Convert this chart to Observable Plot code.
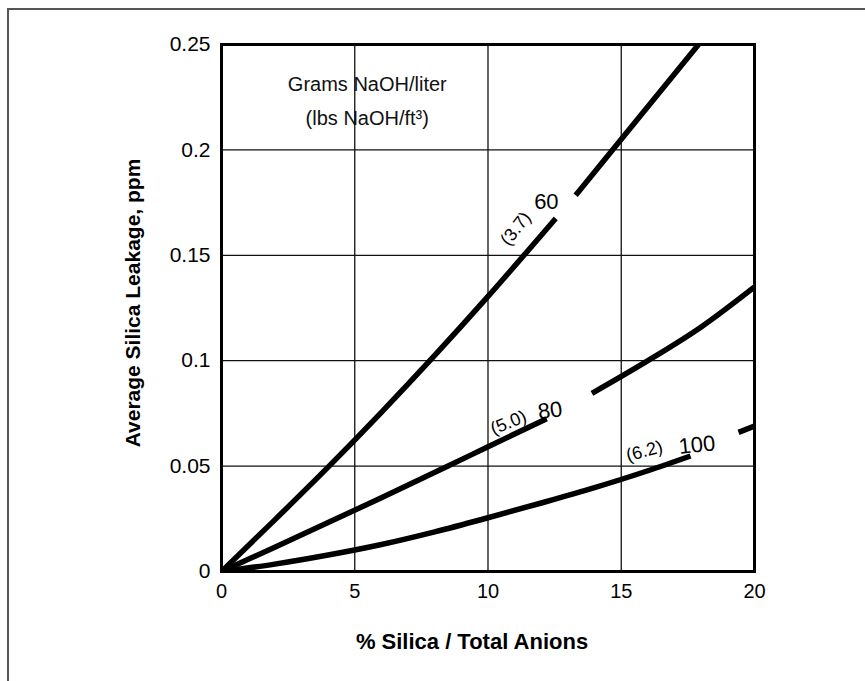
<!DOCTYPE html>
<html><head><meta charset="utf-8">
<script src="https://cdn.jsdelivr.net/npm/d3@7"></script>
<script src="https://cdn.jsdelivr.net/npm/@observablehq/plot@0.6"></script>
<style>
html,body{margin:0;padding:0;background:#fff;}
#wrap{position:relative;width:865px;height:681px;overflow:hidden;}
#border{position:absolute;left:7px;top:8px;width:900px;height:700px;border-left:2px solid #555;border-top:2px solid #555;}
#chart{position:absolute;left:0;top:0;}
</style></head><body>
<div id="wrap"><div id="border"></div><div id="chart"></div></div>
<script>
// ticks
const xTicks = [0, 5, 10, 15, 20];
const xTickLabels = ["0", "5", "10", "15", "20"];
const yTicks = [0, 0.05, 0.1, 0.15, 0.2, 0.25];
const yTickLabels = ["0", "0.05", "0.1", "0.15", "0.2", "0.25"];

// 60 g/L (3.7 lbs/ft3)
const pct60 = [0, 2, 4, 6, 8, 10, 12.54, 13.29, 15, 17.9];
const ppm60 = [0, 0.0245, 0.0495, 0.0755, 0.1025, 0.1305, 0.1675, 0.1785, 0.205, 0.25];
const seg60 = ["a","a","a","a","a","a","a","b","b","b"];

// 80 g/L (5.0 lbs/ft3)
const pct80 = [0, 2, 4, 6, 8.5, 10, 12.2, 13.9, 16, 18, 20];
const ppm80 = [0, 0.0115, 0.0232, 0.035, 0.05, 0.0592, 0.0725, 0.0845, 0.1, 0.116, 0.135];
const seg80 = ["a","a","a","a","a","a","a","b","b","b","b"];

// 100 g/L (6.2 lbs/ft3)
const pct100 = [0, 2, 4, 6, 8, 10, 12, 14, 16, 17.6, 19.4, 20];
const ppm100 = [0, 0.0035, 0.0078, 0.0128, 0.0188, 0.0255, 0.0325, 0.0398, 0.0478, 0.0548, 0.066, 0.069];
const seg100 = ["a","a","a","a","a","a","a","a","a","a","b","b"];

// labels
const curveLabels = ["60", "80", "100"];
const curveLabelX = [12.19, 12.33, 17.84];
const curveLabelY = [0.1752, 0.0763, 0.0600];
const curveLabelRot = [0, -8, -6];

const capLabels = ["(3.7)", "(5.0)", "(6.2)"];
const capLabelX = [11.04, 10.77, 15.87];
const capLabelY = [0.1626, 0.0706, 0.0571];
const capLabelRot = [-52, -22, -15];

const legendLines = ["Grams NaOH/liter", "(lbs NaOH/ft\u00b3)"];
const legendX = [5.47, 5.47];
const legendY = [0.231, 0.2149];

const yTitle = ["Average Silica Leakage, ppm"];
const xTitle = ["% Silica / Total Anions"];

function rows(pcts, ppms, segs, name) {
  return pcts.map((p, i) => ({pct: p, ppm: ppms[i], seg: name + segs[i]}));
}
const curves = [
  ...rows(pct60, ppm60, seg60, "60"),
  ...rows(pct80, ppm80, seg80, "80"),
  ...rows(pct100, ppm100, seg100, "100")
];
const curveLbl = curveLabels.map((t, i) => ({t, x: curveLabelX[i], y: curveLabelY[i], r: curveLabelRot[i]}));
const capLbl = capLabels.map((t, i) => ({t, x: capLabelX[i], y: capLabelY[i], r: capLabelRot[i]}));
const legLbl = legendLines.map((t, i) => ({t, x: legendX[i], y: legendY[i]}));

const font = "'Liberation Sans', Arial, Helvetica, sans-serif";

const chart = Plot.plot({
  width: 865,
  height: 681,
  marginLeft: 221,
  marginRight: 111,
  marginTop: 44,
  marginBottom: 110,
  style: {fontFamily: font, fontSize: "20px", background: "transparent", color: "#000"},
  x: {domain: [0, 20]},
  y: {domain: [0, 0.25]},
  marks: [
    Plot.gridX(xTicks, {stroke: "#111", strokeOpacity: 1, strokeWidth: 1.3}),
    Plot.gridY(yTicks, {stroke: "#111", strokeOpacity: 1, strokeWidth: 1.3}),
    Plot.axisX(xTicks, {tickSize: 0, tickPadding: 12, fontSize: 20, label: null,
      tickFormat: d => xTickLabels[xTicks.indexOf(d)]}),
    Plot.axisY(yTicks, {tickSize: 0, tickPadding: 11, fontSize: 21, label: null,
      tickFormat: d => yTickLabels[yTicks.indexOf(d)]}),
    Plot.line(curves, {x: "pct", y: "ppm", z: "seg", stroke: "#000", strokeWidth: 5.5,
      curve: "monotone-x", strokeLinecap: "butt", clip: true}),
    Plot.frame({stroke: "#000", strokeWidth: 3}),
    Plot.text(legLbl, {x: "x", y: "y", text: "t", fontSize: 20, fill: "#111"}),
    Plot.text(curveLbl, {x: "x", y: "y", text: "t", rotate: "r", fontSize: 22, fill: "#000"}),
    Plot.text(capLbl, {x: "x", y: "y", text: "t", rotate: "r", fontSize: 18, fill: "#000"}),
    Plot.text(yTitle, {text: d => d, frameAnchor: "left", textAnchor: "middle", rotate: -90, dx: -88, dy: -5,
      fontSize: 21, fontWeight: "bold", fill: "#000"}),
    Plot.text(xTitle, {text: d => d, frameAnchor: "bottom", dy: 77, dx: -16,
      fontSize: 22, fontWeight: "bold", fill: "#000"})
  ]
});
document.getElementById("chart").appendChild(chart);
</script>
</body></html>
